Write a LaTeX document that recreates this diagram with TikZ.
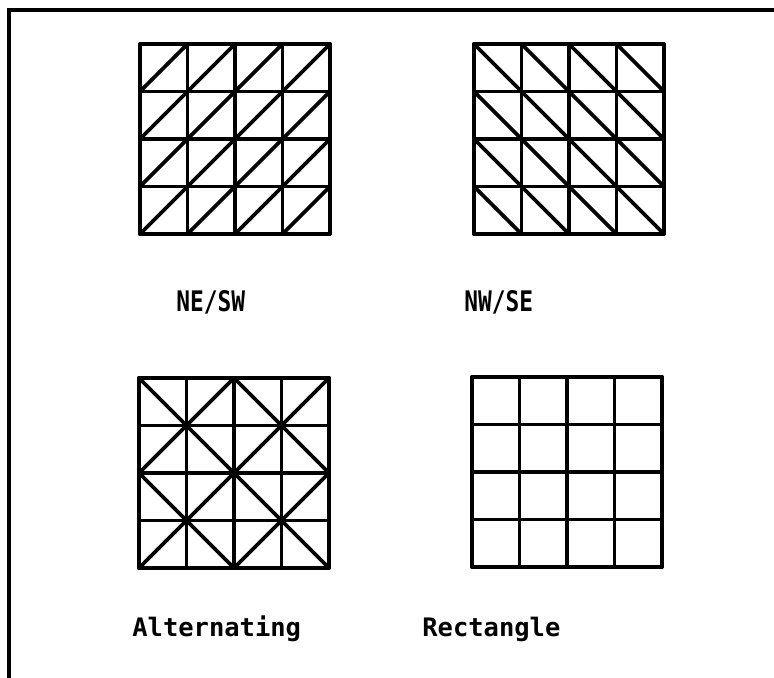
\documentclass[tikz,border=0pt]{standalone}
\usepackage{fontspec}
\newfontfamily\plotfont{DejaVu Sans Mono}

\begin{document}
\begin{tikzpicture}[x=0.02cm, y=-0.02cm,
    frame/.style={line width=2.3pt},
    meshline/.style={line width=2.1pt, line cap=round, line join=round},
    biglabel/.style={font=\plotfont\bfseries\fontsize{14.5}{16}\selectfont, anchor=base west, inner sep=0pt},
    smalllabel/.style={font=\plotfont\bfseries\fontsize{13}{15}\selectfont, anchor=base west, inner sep=0pt}]
    \useasboundingbox (0,0) rectangle (774,678);
    \draw [frame] (9,678) -- (9,10) -- (774,10);

    % NE/SW mesh
    \begin{scope}[shift={(140,44)}, x=0.95cm, y=-0.95cm]
        \foreach \i in {0,...,4} {
            \draw [meshline] (\i,0) -- (\i,4);
            \draw [meshline] (0,\i) -- (4,\i);
        }
        \foreach \i in {0,...,3}
            \foreach \j in {0,...,3}
                \draw [meshline] (\i,\j+1) -- (\i+1,\j);
    \end{scope}

    % NW/SE mesh
    \begin{scope}[shift={(474,44)}, x=0.95cm, y=-0.95cm]
        \foreach \i in {0,...,4} {
            \draw [meshline] (\i,0) -- (\i,4);
            \draw [meshline] (0,\i) -- (4,\i);
        }
        \foreach \i in {0,...,3}
            \foreach \j in {0,...,3}
                \draw [meshline] (\i,\j) -- (\i+1,\j+1);
    \end{scope}

    % alternating mesh
    \begin{scope}[shift={(139,378)}, x=0.95cm, y=-0.95cm]
        \foreach \i in {0,...,4} {
            \draw [meshline] (\i,0) -- (\i,4);
            \draw [meshline] (0,\i) -- (4,\i);
        }
        \foreach \a in {0,2}
            \foreach \b in {0,2} {
                \draw [meshline] (\a,\b) -- ++(2,2);
                \draw [meshline] (\a+2,\b) -- ++(-2,2);
            }
    \end{scope}

    % rectangle mesh
    \begin{scope}[shift={(472,377)}, x=0.95cm, y=-0.95cm]
        \foreach \i in {0,...,4} {
            \draw [meshline] (\i,0) -- (\i,4);
            \draw [meshline] (0,\i) -- (4,\i);
        }
    \end{scope}

    \node[smalllabel] (nesw) at (176,312) {\scalebox{1}[1.24]{NE/SW}};
    \node[smalllabel] (nwse) at (464,312) {\scalebox{1}[1.24]{NW/SE}};
    \node[biglabel] (alt) at (132,636) {Alternating};
    \node[biglabel] (rect) at (422,636) {Rectangle};
\end{tikzpicture}
\end{document}
